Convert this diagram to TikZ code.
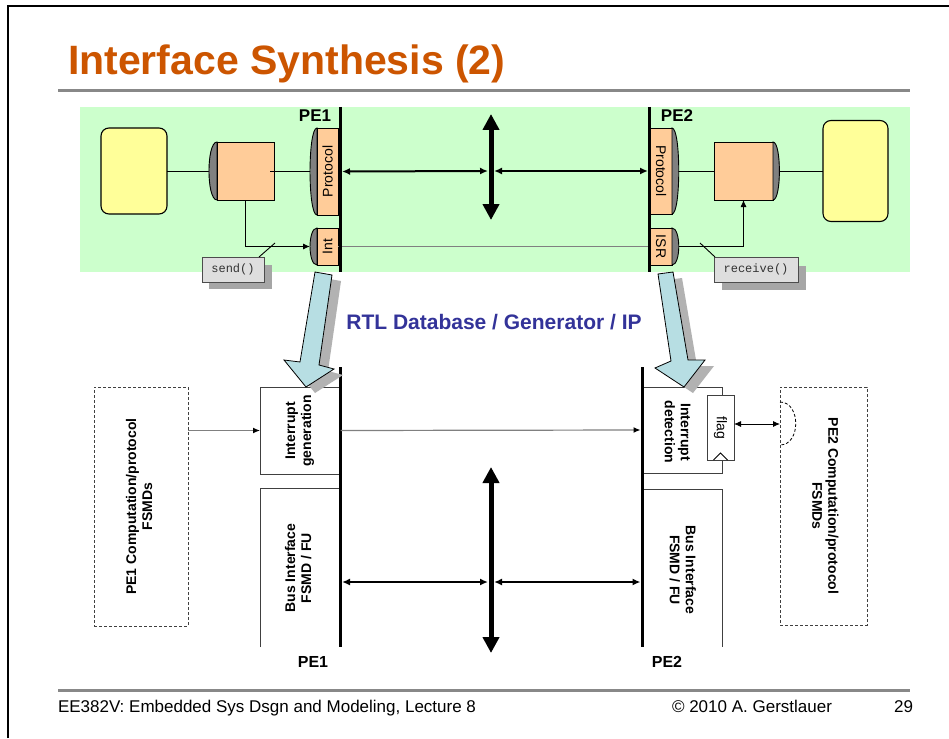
\documentclass[tikz,border=0pt]{standalone}
\usepackage{fontspec}
\setmainfont{Liberation Sans}
\setmonofont{Liberation Mono}
\usetikzlibrary{arrows.meta,calc}
\definecolor{titlecol}{RGB}{204,85,0}
\definecolor{bggreen}{RGB}{204,255,204}
\definecolor{paleyel}{RGB}{255,255,153}
\definecolor{peach}{RGB}{255,204,153}
\definecolor{portgray}{RGB}{128,128,128}
\definecolor{arrowblue}{RGB}{183,222,227}
\definecolor{rtlblue}{RGB}{51,51,153}
\definecolor{rulegray}{RGB}{136,136,136}
\newcommand\pxfont[2]{\fontsize{#1}{#2}\selectfont}
% half-ellipse port drawn on the left / right side of a named box
\newcommand\portL[2]{\filldraw[portshape] (#1.north west) .. controls ([xshift=-#2]#1.north west) and ([xshift=-#2]#1.south west) .. (#1.south west) -- cycle;}
\newcommand\portR[2]{\filldraw[portshape] (#1.north east) .. controls ([xshift=#2]#1.north east) and ([xshift=#2]#1.south east) .. (#1.south east) -- cycle;}
\newcommand\twolines[2]{\begin{tabular}{@{}c@{}}#1\\#2\end{tabular}}
\begin{document}
\begin{tikzpicture}[x=1pt,y=-1pt,
  every node/.style={inner sep=0pt,outer sep=0pt},
  sys/.style={draw,line width=1.1pt,fill=paleyel,rounded corners=8pt},
  beh/.style={draw,line width=0.9pt,fill=peach},
  port/.style={draw,line width=0.9pt,fill=peach,font=\pxfont{14}{16}},
  portshape/.style={fill=portgray,draw=black,line width=0.9pt},
  pebar/.style={line width=3pt},
  bus/.style={line width=5pt,{Triangle[width=16pt,length=16pt]}-{Triangle[width=16pt,length=16pt]}},
  link/.style={line width=2pt,{Latex[length=8pt,width=7pt]}-{Latex[length=8pt,width=7pt]}},
  wire/.style={line width=0.9pt},
  sig/.style={line width=1.2pt,draw=portgray},
  arrowend/.style={-{Latex[length=7pt,width=6pt,color=black]}},
  cbox/.style={draw=black!70,line width=0.9pt,fill=black!13,font=\ttfamily\pxfont{12}{14},text=black!80},
  cshadow/.style={fill=black!35},
  rtlbox/.style={draw=black!75,line width=0.9pt,fill=white},
  boldtext/.style={font=\bfseries\pxfont{14}{16}},
  fsmd/.style={draw=black!75,line width=0.9pt,dash pattern=on 3pt off 2pt,font=\bfseries\pxfont{14}{16}},
  pelabel/.style={font=\bfseries\pxfont{17}{19}},
  bigarrow/.style={fill=arrowblue,draw=black,line width=0.8pt},
  bigshadow/.style={fill=black!30},
]
\useasboundingbox (0,0) rectangle (949,738);
\fill[white] (0,0) rectangle (949,738);

% slide frame, title and footer
\draw[line width=2.7pt] (8,738) -- (8,6) -- (949,6);
\node[anchor=base west,font=\bfseries\pxfont{41}{46},text=titlecol] (title) at (68,75) {Interface Synthesis (2)};
\coordinate (rule1a) at (58,91);
\coordinate (rule1b) at (910,91);
\draw[rulegray,line width=3pt] (rule1a) -- (rule1b);
\coordinate (rule2a) at (58,690);
\coordinate (rule2b) at (910,690);
\draw[rulegray,line width=3pt] (rule2a) -- (rule2b);
\node[anchor=base west,font=\pxfont{17}{19}] (foot1) at (58,712) {EE382V: Embedded Sys Dsgn and Modeling, Lecture 8};
\node[anchor=base,font=\pxfont{17}{19}] (foot2) at (752,712) {\textcopyright{} 2010 A. Gerstlauer};
\node[anchor=base east,font=\pxfont{17}{19}] (foot3) at (913,712) {29};

% ---------------- specification level ----------------
\fill[bggreen] (80,107) rectangle (910,272);

\coordinate (p1t) at (340,107);
\coordinate (p1b) at (340,272);
\coordinate (p2t) at (649,107);
\coordinate (p2b) at (649,272);

\node[sys,minimum width=66pt,minimum height=86pt] (ya) at (134,171) {};
\node[sys,minimum width=65pt,minimum height=101pt] (yb) at (855.5,171) {};
\node[beh,minimum width=57pt,minimum height=58pt] (ba) at (245.5,171) {};
\node[beh,minimum width=59pt,minimum height=58pt] (bb) at (743.5,171) {};
\draw[wire] (ya.east) -- (ba.west);
\draw[wire] ([xshift=-4pt]ba.east) -- (327.5,171);
\draw[wire] (661,171) -- (bb.west);
\draw[wire] (bb.east) -- (yb.west);
\portL{ba}{10.7pt}
\portR{bb}{8.5pt}

\node[port,minimum width=21pt,minimum height=87pt] (pa) at (327.5,171.5) {\rotatebox{90}{Protocol}};
\node[port,minimum width=21pt,minimum height=37pt] (ia) at (327.5,246.5) {\rotatebox{90}{Int}};
\node[port,minimum width=22pt,minimum height=86pt] (pb) at (661,171) {\rotatebox{-90}{Protocol}};
\node[port,minimum width=22pt,minimum height=37pt] (ib) at (661,246.5) {\rotatebox{-90}{ISR}};
\portL{pa}{9.3pt}
\portL{ia}{9.3pt}
\portR{pb}{9pt}
\portR{ib}{9pt}

\draw[sig] (ia.east) -- (ib.west);
\draw[wire,arrowend] (ba.south) |- ([xshift=-7pt]ia.west);
\draw[wire,arrowend] ([xshift=7pt]ib.east) -| (bb.south);

\draw[pebar] (p1t) -- (p1b);
\draw[pebar] (p2t) -- (p2b);
\node[pelabel] (pe1a) at (315,116) {PE1};
\node[pelabel] (pe2a) at (677,116) {PE2};

% bus between the two PEs
\coordinate (busa) at (491,114);
\coordinate (busb) at (491,220);
\coordinate (busm) at (491,171);
\draw[bus] (busa) -- (busb);
\draw[link] ([xshift=4pt]pa.east) -- ([xshift=-3pt]busm);
\draw[link] ([xshift=3pt]busm) -- ([xshift=-2pt]pb.west);

% call-outs with drop shadows
\coordinate (sendc) at (233,269.5);
\fill[cshadow] ($(sendc)+(-24,-4.5)$) rectangle ($(sendc)+(39,19.5)$);
\node[cbox,minimum width=62pt,minimum height=25pt] (send) at (sendc) {send()};
\coordinate (sendp) at (275,243);
\draw[wire] ([xshift=-5pt]send.north east) -- (sendp);
\coordinate (recvc) at (756,269.5);
\fill[cshadow] ($(recvc)+(-34,-4)$) rectangle ($(recvc)+(50,20.5)$);
\node[cbox,minimum width=84pt,minimum height=25pt] (recv) at (recvc) {receive()};
\coordinate (recvp) at (700,243);
\draw[wire] ([xshift=1pt]recv.north west) -- (recvp);

% ---------------- implementation level ----------------
\node[fsmd,minimum width=94pt,minimum height=239pt] (c1) at (141,506.5) {\rotatebox{90}{\twolines{PE1 Computation/protocol}{FSMDs}}};
\node[fsmd,minimum width=87pt,minimum height=238pt] (c2) at (823.5,506) {\rotatebox{-90}{\twolines{PE2 Computation/protocol}{FSMDs}}};

\node[rtlbox,minimum width=79pt,minimum height=87pt] (ig) at (299.5,430.5) {};
\node[boldtext] (igt) at (300,431) {\rotatebox{90}{\twolines{Interrupt}{generation}}};
\node[rtlbox,minimum width=80pt,minimum height=86pt] (id) at (682,430) {};
\node[boldtext] (idt) at (676,432) {\rotatebox{-90}{\twolines{Interrupt}{detection}}};
\node[rtlbox,minimum width=27pt,minimum height=65pt,font=\pxfont{14}{16}] (fl) at (720.5,427.5) {\rotatebox{-90}{flag}};
\draw[line width=0.8pt] ([xshift=-7pt]fl.south) -- ([yshift=7pt]fl.south) -- ([xshift=7pt]fl.south);

\node[minimum width=79pt,minimum height=159pt] (bi1) at (299.5,567.5) {};
\draw[draw=black!75,line width=0.9pt] (bi1.south west) -- (bi1.north west) -- (bi1.north east);
\node[boldtext] (bi1t) at (300,568) {\rotatebox{90}{\twolines{Bus Interface}{FSMD / FU}}};
\node[minimum width=80pt,minimum height=158pt] (bi2) at (682,568) {};
\draw[draw=black!75,line width=0.9pt] (bi2.north west) -- (bi2.north east) -- (bi2.south east);
\node[boldtext] (bi2t) at (681,570) {\rotatebox{-90}{\twolines{Bus Interface}{FSMD / FU}}};

\coordinate (q1t) at (340,367);
\coordinate (q1b) at (340,647);
\coordinate (q2t) at (642,367);
\coordinate (q2b) at (642,647);
\draw[pebar] (q1t) -- (q1b);
\draw[pebar] (q2t) -- (q2b);
\node[pelabel,font=\bfseries\pxfont{16}{18}] (pe1b) at (313,662) {PE1};
\node[pelabel,font=\bfseries\pxfont{16}{18}] (pe2b) at (667,662) {PE2};

\draw[sig,arrowend] (c1.east |- ig.west) -- (ig.west);
\draw[sig,arrowend] ([xshift=1.5pt]ig.east) -- ([xshift=-1.5pt]id.west);
\coordinate (hook) at (780,424);
\draw[wire,{Latex[length=7pt,width=6pt]}-{Latex[length=7pt,width=6pt]}] (fl.east |- hook) -- (hook);
\draw[line width=0.8pt,dash pattern=on 3pt off 2pt] (780,402) .. controls (801,402) and (801,445) .. (780,445);

\coordinate (lbusa) at (491,467);
\coordinate (lbusb) at (491,653);
\coordinate (lbusm) at (491,582);
\coordinate (lq1) at (342,582);
\coordinate (lq2) at (640.5,582);
\draw[bus] (lbusa) -- (lbusb);
\draw[link] (lq1) -- ([xshift=-3pt]lbusm);
\draw[link] ([xshift=3pt]lbusm) -- (lq2);

% ---------------- refinement arrows ----------------
\begin{scope}[shift={(9,6)}]
\fill[bigshadow] (315,272) -- (332,275) -- (319,365) -- (334,369) -- (306,387) -- (284,360) -- (300,362) -- cycle;
\fill[bigshadow] (658,274) -- (673,272) -- (688,360) -- (705,360) -- (684,387) -- (655,368) -- (671,361) -- cycle;
\end{scope}
\draw[bigarrow] (315,272) -- (332,275) -- (319,365) -- (334,369) -- (306,387) -- (284,360) -- (300,362) -- cycle;
\draw[bigarrow] (658,274) -- (673,272) -- (688,360) -- (705,360) -- (684,387) -- (655,368) -- (671,361) -- cycle;

\node[font=\bfseries\pxfont{21}{24},text=rtlblue] (rtl) at (494,322) {RTL Database / Generator / IP};
\end{tikzpicture}
\end{document}
